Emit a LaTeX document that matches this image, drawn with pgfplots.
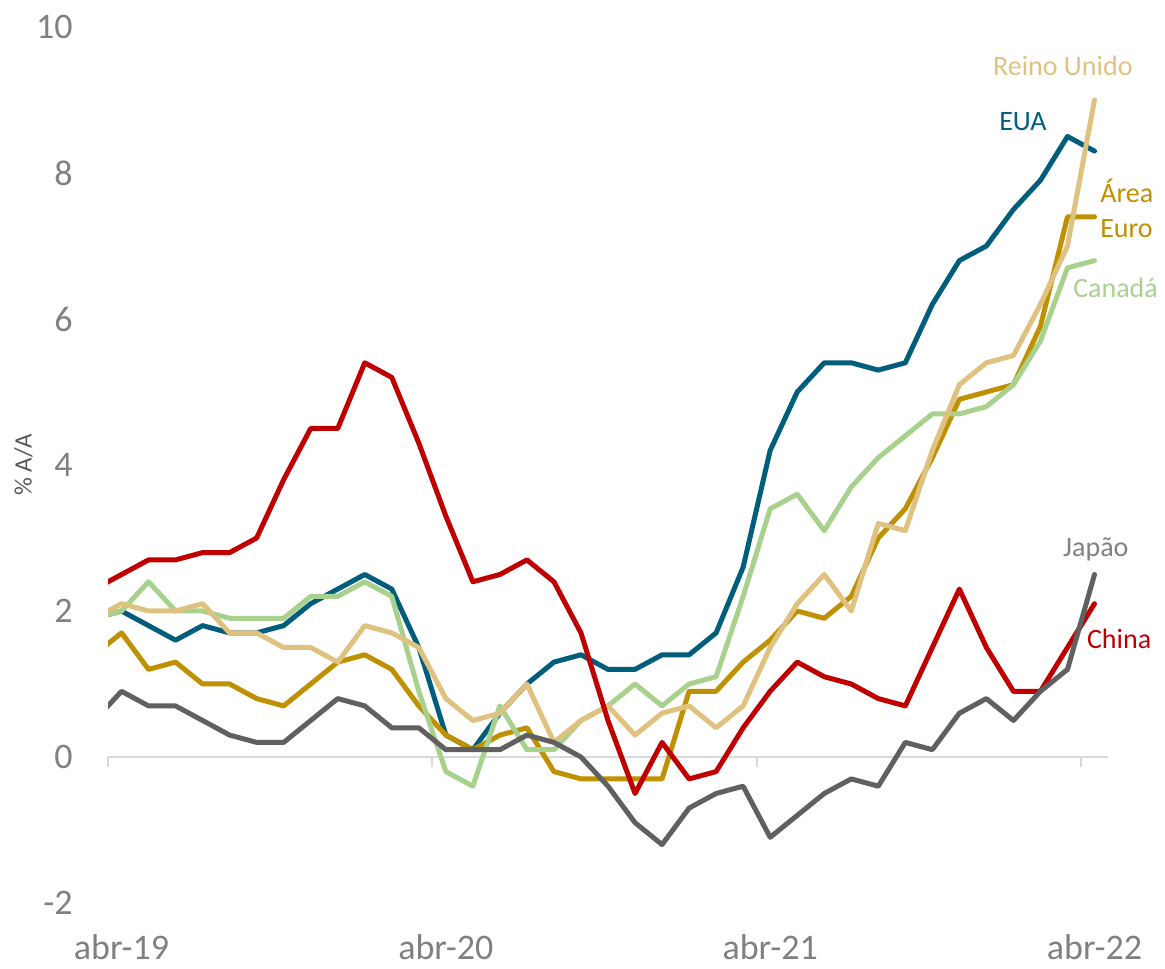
\documentclass[border=0pt]{standalone}
\usepackage{fontspec}
\setmainfont{Carlito}
\usepackage{pgfplots}
\usepackage{pgfplotstable}
\pgfplotsset{compat=1.18}
\definecolor{cUS}{RGB}{0,94,124}
\definecolor{cEA}{RGB}{191,144,0}
\definecolor{cUK}{RGB}{223,194,128}
\definecolor{cCA}{RGB}{169,209,142}
\definecolor{cJP}{RGB}{96,96,96}
\definecolor{cJPt}{RGB}{128,128,128}
\definecolor{cCN}{RGB}{192,0,0}
\definecolor{tickc}{RGB}{128,128,128}
\definecolor{axc}{RGB}{217,217,217}
\definecolor{labc}{RGB}{89,89,89}

\pgfplotstableread{
x us ea uk ca jp cn
-0.5 1.9 1.4 1.9 1.9 0.5 2.3
0.5 2.0 1.7 2.1 2.0 0.9 2.5
1.5 1.8 1.2 2.0 2.4 0.7 2.7
2.5 1.6 1.3 2.0 2.0 0.7 2.7
3.5 1.8 1.0 2.1 2.0 0.5 2.8
4.5 1.7 1.0 1.7 1.9 0.3 2.8
5.5 1.7 0.8 1.7 1.9 0.2 3.0
6.5 1.8 0.7 1.5 1.9 0.2 3.8
7.5 2.1 1.0 1.5 2.2 0.5 4.5
8.5 2.3 1.3 1.3 2.2 0.8 4.5
9.5 2.5 1.4 1.8 2.4 0.7 5.4
10.5 2.3 1.2 1.7 2.2 0.4 5.2
11.5 1.5 0.7 1.5 0.9 0.4 4.3
12.5 0.3 0.3 0.8 -0.2 0.1 3.3
13.5 0.1 0.1 0.5 -0.4 0.1 2.4
14.5 0.6 0.3 0.6 0.7 0.1 2.5
15.5 1.0 0.4 1.0 0.1 0.3 2.7
16.5 1.3 -0.2 0.2 0.1 0.2 2.4
17.5 1.4 -0.3 0.5 0.5 0.0 1.7
18.5 1.2 -0.3 0.7 0.7 -0.4 0.5
19.5 1.2 -0.3 0.3 1.0 -0.9 -0.5
20.5 1.4 -0.3 0.6 0.7 -1.2 0.2
21.5 1.4 0.9 0.7 1.0 -0.7 -0.3
22.5 1.7 0.9 0.4 1.1 -0.5 -0.2
23.5 2.6 1.3 0.7 2.2 -0.4 0.4
24.5 4.2 1.6 1.5 3.4 -1.1 0.9
25.5 5.0 2.0 2.1 3.6 -0.8 1.3
26.5 5.4 1.9 2.5 3.1 -0.5 1.1
27.5 5.4 2.2 2.0 3.7 -0.3 1.0
28.5 5.3 3.0 3.2 4.1 -0.4 0.8
29.5 5.4 3.4 3.1 4.4 0.2 0.7
30.5 6.2 4.1 4.2 4.7 0.1 1.5
31.5 6.8 4.9 5.1 4.7 0.6 2.3
32.5 7.0 5.0 5.4 4.8 0.8 1.5
33.5 7.5 5.1 5.5 5.1 0.5 0.9
34.5 7.9 5.9 6.2 5.7 0.9 0.9
35.5 8.5 7.4 7.0 6.7 1.2 1.5
36.5 8.3 7.4 9.0 6.8 2.5 2.1
}\data

\begin{document}
\begin{tikzpicture}
\begin{axis}[
  name=ax,
  at={(0,0)}, anchor=south west,
  scale only axis, width=500pt, height=438pt,
  xmin=0, xmax=37, ymin=-2, ymax=10,
  axis line style={draw=none},
  major tick length=0pt,
  xtick={0.5,12.5,24.5,36.5},
  xticklabels={abr-19,abr-20,abr-21,abr-22},
  ytick={-2,0,2,4,6,8,10},
  yticklabels={-2,0,2,4,6,8,10},
  extra y ticks={0},
  extra y tick labels={},
  extra y tick style={grid=major, major grid style={draw=axc, line width=1pt}},
  /pgf/number format/assume math mode=true,
  tick label style={font=\fontsize{18}{20}\selectfont, text=tickc},
  yticklabel style={anchor=east, inner sep=0pt, xshift=-17.5pt},
  xticklabel style={anchor=base, inner sep=0pt, yshift=-28pt},
  clip mode=individual,
  every axis plot/.append style={line width=2.5pt, line join=round, line cap=round, mark=none},
]
\draw[axc, line width=1pt] (axis cs:0,0) -- (axis cs:0,-0.137);
\draw[axc, line width=1pt] (axis cs:12,0) -- (axis cs:12,-0.137);
\draw[axc, line width=1pt] (axis cs:24,0) -- (axis cs:24,-0.137);
\draw[axc, line width=1pt] (axis cs:36,0) -- (axis cs:36,-0.137);

\addplot[cUS] table[x=x, y=us] {\data};
\addplot[cEA] table[x=x, y=ea] {\data};
\addplot[cCA] table[x=x, y=ca] {\data};
\addplot[cUK] table[x=x, y=uk] {\data};
\addplot[cCN] table[x=x, y=cn] {\data};
\addplot[cJP] table[x=x, y=jp] {\data};

\node[anchor=base, inner sep=0pt, text=cUK, font=\fontsize{14}{16}\selectfont] at (axis cs:35.33,9.34) {Reino Unido};
\node[anchor=base, inner sep=0pt, text=cUS, font=\fontsize{14}{16}\selectfont] at (axis cs:33.85,8.58) {EUA};
\node[anchor=base west, inner sep=0pt, text=cEA, font=\fontsize{14}{16}\selectfont] at (axis cs:36.70,7.59) {Área};
\node[anchor=base west, inner sep=0pt, text=cEA, font=\fontsize{14}{16}\selectfont] at (axis cs:36.70,7.12) {Euro};
\node[anchor=base west, inner sep=0pt, text=cCA, font=\fontsize{14}{16}\selectfont] at (axis cs:35.70,6.30) {Canadá};
\node[anchor=base, inner sep=0pt, text=cJPt, font=\fontsize{14}{16}\selectfont] at (axis cs:36.55,2.74) {Japão};
\node[anchor=base west, inner sep=0pt, text=cCN, font=\fontsize{14}{16}\selectfont] at (axis cs:36.21,1.49) {China};
\end{axis}
\node[rotate=90, inner sep=0pt, text=labc, font=\fontsize{12.5}{14}\selectfont] at ([xshift=-42.2pt]ax.west) {\% A/A};
\pgfresetboundingbox
\path[use as bounding box] ([shift={(-54pt,-32.5pt)}]ax.south west) rectangle ([shift={(28.5pt,13.5pt)}]ax.north east);
\end{tikzpicture}
\end{document}
